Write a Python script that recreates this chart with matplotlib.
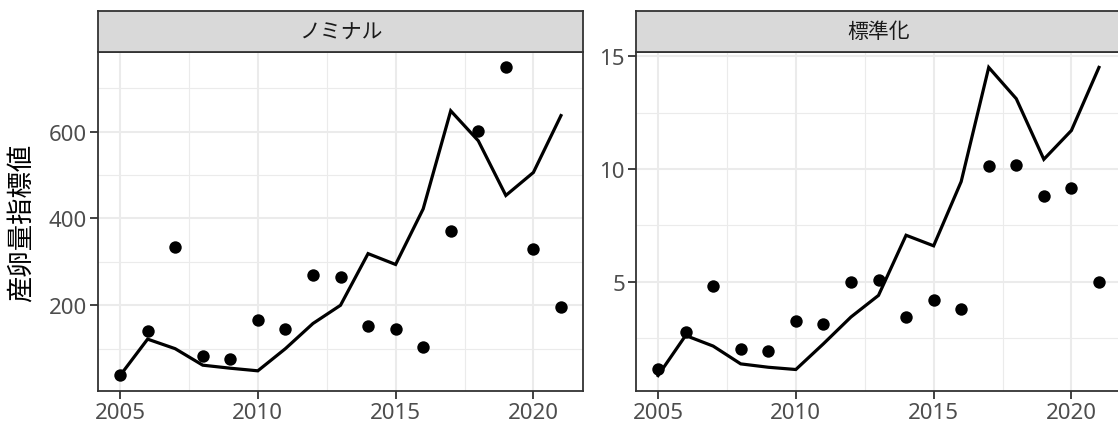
import matplotlib
matplotlib.use('Agg')
import matplotlib.pyplot as plt
import numpy as np

plt.rcParams['font.family'] = ['Noto Sans CJK JP', 'DejaVu Sans']

# データ
years = [2005, 2006, 2007, 2008, 2009, 2010, 2011, 2012, 2013,
         2014, 2015, 2016, 2017, 2018, 2019, 2020, 2021]
panel_titles = ['ノミナル', '標準化']
ylab = '産卵量指標値'

nominal_obs = [40, 141, 334, 82, 76, 165, 145, 270, 264,
               152, 146, 103, 371, 601, 748, 330, 195]
nominal_fit = [38, 122, 100, 62, 55, 49, 100, 158, 200,
               319, 294, 422, 648, 579, 453, 506, 637]
std_obs = [1.13, 2.76, 4.81, 1.99, 1.90, 3.26, 3.12, 5.00, 5.09,
           3.43, 4.20, 3.80, 10.13, 10.18, 8.78, 9.15, 4.97]
std_fit = [0.83, 2.61, 2.14, 1.35, 1.20, 1.10, 2.24, 3.43, 4.39,
           7.06, 6.59, 9.44, 14.51, 13.12, 10.43, 11.71, 14.51]

x_breaks = [2005, 2010, 2015, 2020]
x_minor = [2007.5, 2012.5, 2017.5]
y_breaks = [[200, 400, 600], [5, 10, 15]]
y_minor = [[100, 300, 500, 700], [2.5, 7.5, 12.5]]

W, H = 1118, 427
fig = plt.figure(figsize=(W / 100, H / 100), dpi=100)

grey20 = '#333333'
panels = [(98, 583), (636, 1121)]
top_px, bot_px, strip_top = 53, 392, 12

for i, (obs, fit) in enumerate([(nominal_obs, nominal_fit), (std_obs, std_fit)]):
    x0, x1 = panels[i]
    ax = fig.add_axes([x0 / W, (H - bot_px) / H, (x1 - x0) / W, (bot_px - top_px) / H])
    ax.set_axisbelow(True)
    ax.plot(years, fit, color='black', lw=2.3, zorder=3, solid_joinstyle='miter')
    ax.scatter(years, obs, s=80, color='black', zorder=4, linewidths=0)

    # ggplot風の5%拡張
    lo = min(min(obs), min(fit)); hi = max(max(obs), max(fit))
    pad = (hi - lo) * 0.05
    ax.set_ylim(lo - pad, hi + pad)
    ax.set_xlim(2005 - 0.8, 2021 + 0.8)

    ax.set_xticks(x_breaks)
    ax.set_xticks(x_minor, minor=True)
    ax.set_yticks(y_breaks[i])
    ax.set_yticks(y_minor[i], minor=True)
    ax.grid(True, which='major', color='#EBEBEB', lw=1.5)
    ax.grid(True, which='minor', color='#EBEBEB', lw=0.8)
    ax.tick_params(which='major', length=6, width=1.3, color=grey20,
                   labelsize=16, labelcolor='#4D4D4D', pad=2)
    ax.tick_params(which='minor', length=0)
    for lab in ax.get_xticklabels() + ax.get_yticklabels():
        lab.set_family('Noto Sans')
    for sp in ax.spines.values():
        sp.set_color(grey20)
        sp.set_linewidth(1.3)

    # ストリップ
    sax = fig.add_axes([x0 / W, (H - top_px) / H, (x1 - x0) / W, (top_px - strip_top) / H])
    sax.set_facecolor('#D9D9D9')
    sax.set_xticks([]); sax.set_yticks([])
    for sp in sax.spines.values():
        sp.set_color(grey20)
        sp.set_linewidth(1.3)
    sax.text(0.5, 0.5, panel_titles[i], ha='center', va='center',
             fontsize=15, color='#1A1A1A', transform=sax.transAxes)

fig.text(22 / W, (H - 223) / H, ylab, rotation=90, ha='center', va='center',
         fontsize=19, color='black')

fig.savefig('out.png', dpi=100)
